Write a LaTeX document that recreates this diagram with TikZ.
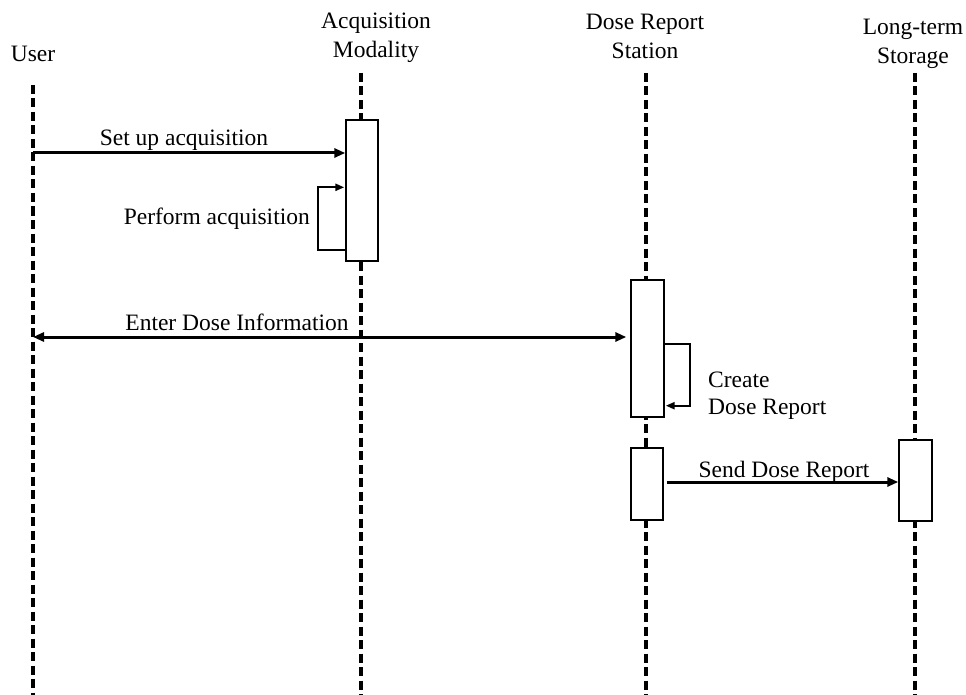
\documentclass[tikz,border=0pt]{standalone}
\usepackage{fontspec}
\setmainfont{Liberation Serif}
\usetikzlibrary{arrows.meta}
\begin{document}
\begin{tikzpicture}[x=1pt,y=-1pt,
  every node/.style={font=\fontsize{23.5}{29}\selectfont, inner sep=0pt},
  head/.style={align=center},
  lifeline/.style={line width=3.4pt, dash pattern=on 9pt off 4.5pt},
  actbox/.style={draw, fill=white, line width=1.4pt, rectangle},
  msg/.style={line width=3pt, -{Triangle[length=11pt,width=9pt]}},
  msgboth/.style={line width=3pt, {Triangle[length=11pt,width=9pt]}-{Triangle[length=11pt,width=9pt]}},
  loopmsg/.style={line width=2.3pt, -{Triangle[length=9pt,width=7pt]}}]
\useasboundingbox (0,0) rectangle (966,695);
% heads
\node[head, anchor=base] (hu) at (33,62) {User};
\node[head] (ham) at (376,38) {Acquisition\\Modality};
\node[head] (hdrs) at (645,36) {Dose Report\\Station};
\node[head] (hlts) at (913,44) {Long-term\\Storage};
% lifelines
\coordinate (lu0) at (33,85);   \coordinate (lu1) at (33,695);
\coordinate (lam0) at (361,73); \coordinate (lam1) at (361,695);
\coordinate (ld0) at (646,73);  \coordinate (ld1) at (646,695);
\coordinate (ll0) at (915,73);  \coordinate (ll1) at (915,695);
\draw[lifeline] (lu0) -- (lu1);
\draw[lifeline] (lam0) -- (lam1);
\draw[lifeline] (ld0) -- (ld1);
\draw[lifeline] (ll0) -- (ll1);
% activation boxes
\node[actbox, minimum width=32pt, minimum height=141pt] (am) at (362,190.5) {};
\node[actbox, minimum width=33pt, minimum height=137pt] (drs1) at (647.5,348.5) {};
\node[actbox, minimum width=32pt, minimum height=72pt] (drs2) at (647,484) {};
\node[actbox, minimum width=33pt, minimum height=81pt] (lts) at (915.5,480.5) {};
% messages
\coordinate (u1) at (33,153);
\draw[msg] (u1) -- (u1 -| am.west);
\node[anchor=base] (l1) at (184,146) {Set up acquisition};
\draw[loopmsg] ([yshift=12pt]am.south west) -- ++(-27,0) |- ([yshift=-68pt,xshift=-1pt]am.north west);
\node[anchor=base east] (l2) at (310,225) {Perform acquisition};
\coordinate (u2) at (33,337);
\draw[msgboth] (u2) -- ([xshift=-4pt]u2 -| drs1.west);
\node[anchor=base] (l3) at (237,330) {Enter Dose Information};
\draw[loopmsg] ([yshift=-65pt]drs1.north east) -- ++(25,0) |- ([yshift=12pt,xshift=1pt]drs1.south east);
\node[anchor=base west] (l4) at (708,387) {Create};
\node[anchor=base west] (l5) at (708,414) {Dose Report};
\draw[msg] ([yshift=2pt,xshift=3pt]drs2.east) -- ([yshift=2pt]drs2.east -| lts.west);
\node[anchor=base] (l6) at (784,477) {Send Dose Report};
\end{tikzpicture}
\end{document}
